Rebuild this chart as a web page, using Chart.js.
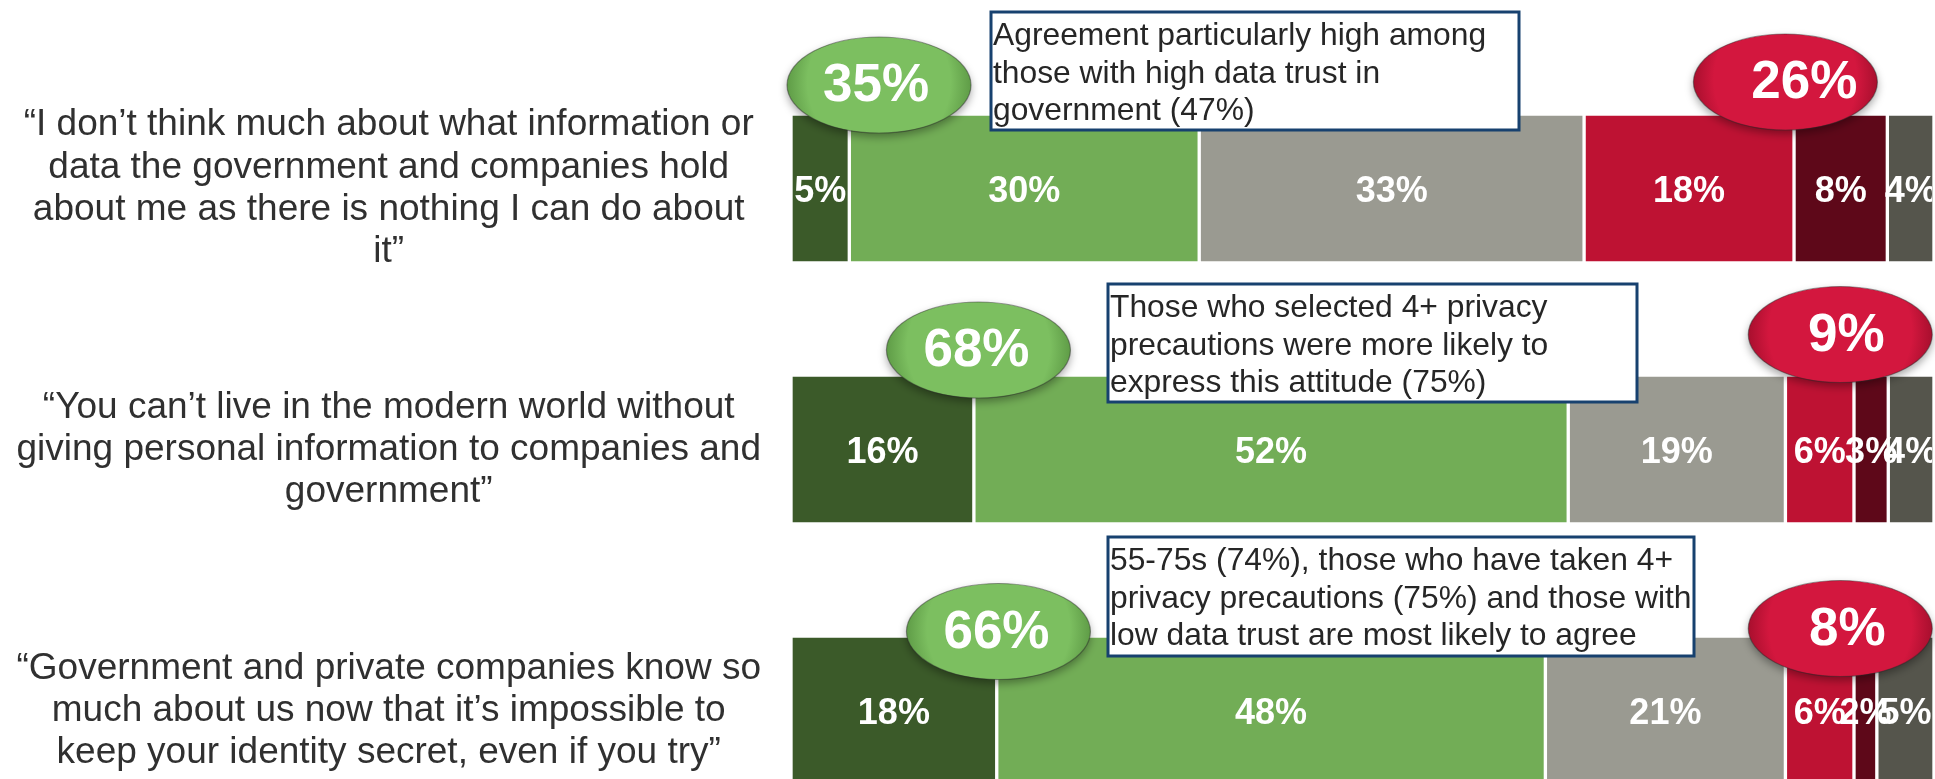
<!DOCTYPE html>
<html>
<head>
<meta charset="utf-8">
<script src="https://cdn.jsdelivr.net/npm/chart.js@4.4.1/dist/chart.umd.min.js"></script>
<style>
  html, body { margin: 0; padding: 0; background: #fff; overflow: hidden; }
  #wrap { width: 1935px; height: 779px; overflow: hidden; position: relative; }
  #wrap canvas { display: block; }
</style>
</head>
<body>
<div id="wrap"><canvas id="attitudeChart" width="1935" height="850"></canvas></div>
<script>
// statements (one line per array entry)
const statements = [
  ['“I don’t think much about what information or', 'data the government and companies hold', 'about me as there is nothing I can do about', 'it”'],
  ['“You can’t live in the modern world without', 'giving personal information to companies and', 'government”'],
  ['“Government and private companies know so', 'much about us now that it’s impossible to', 'keep your identity secret, even if you try”']
];

// answers in %
const strongAgree    = [5, 16, 18];
const agree          = [30, 52, 48];
const neither        = [33, 19, 21];
const disagree       = [18, 6, 6];
const strongDisagree = [8, 3, 2];
const dontKnow       = [4, 4, 5];

// net agree / net disagree bubbles
const netAgree    = [35, 68, 66];
const netDisagree = [26, 9, 8];

// sub-group notes
const notes = [
  ['Agreement particularly high among', 'those with high data trust in', 'government (47%)'],
  ['Those who selected 4+ privacy', 'precautions were more likely to', 'express this attitude (75%)'],
  ['55-75s (74%), those who have taken 4+', 'privacy precautions (75%) and those with', 'low data trust are most likely to agree']
];

const FONT = '"Liberation Sans", Arial, sans-serif';

const series = [
  { values: strongAgree,    color: '#3b5a29' },
  { values: agree,          color: '#72ad56' },
  { values: neither,        color: '#9a9a91' },
  { values: disagree,       color: '#be1233' },
  { values: strongDisagree, color: '#5e0819' },
  { values: dontKnow,       color: '#55554c' }
];

// each row is drawn as 100%
const rowTotals = statements.map((s, i) => series.reduce((t, d) => t + d.values[i], 0));

const datasets = series.map(s => ({
  data: s.values.map((v, i) => v / rowTotals[i] * 100),
  values: s.values,
  backgroundColor: s.color,
  borderColor: '#ffffff',
  borderWidth: 2,
  borderSkipped: false,
  barThickness: 149
}));

// bubble placement: x on the % axis, dy from the row centre
const agreeBubbles    = [{ x: 7.7,  dy: -103.5, tx: -3 }, { x: 16.4, dy: -99.5,  tx: -2 }, { x: 18.15, dy: -79, tx: -2 }];
const disagreeBubbles = [{ x: 87.0, dy: -106.5, tx: 19 }, { x: 91.8, dy: -115,   tx: 6 },  { x: 91.8,  dy: -82, tx: 7 }];
const noteBoxes = [
  { left: 991,  top: 12,  w: 528, h: 118 },
  { left: 1108, top: 284, w: 529, h: 118 },
  { left: 1108, top: 537, w: 586, h: 119 }
];

function drawBubble(ctx, cx, cy, text, inner, outer, tx) {
  const rx = 92, ry = 48;
  ctx.save();
  ctx.shadowColor = 'rgba(0,0,0,0.35)';
  ctx.shadowBlur = 8;
  ctx.shadowOffsetY = 4;
  const g = ctx.createRadialGradient(cx, cy - 10, 10, cx, cy, rx);
  g.addColorStop(0, inner);
  g.addColorStop(0.75, inner);
  g.addColorStop(1, outer);
  ctx.beginPath();
  ctx.ellipse(cx, cy, rx, ry, 0, 0, Math.PI * 2);
  ctx.fillStyle = g;
  ctx.fill();
  ctx.restore();

  ctx.save();
  ctx.beginPath();
  ctx.ellipse(cx, cy, rx, ry, 0, 0, Math.PI * 2);
  ctx.strokeStyle = 'rgba(40,40,40,0.45)';
  ctx.lineWidth = 1.2;
  ctx.stroke();
  ctx.fillStyle = '#ffffff';
  ctx.font = 'bold 53px ' + FONT;
  ctx.textAlign = 'center';
  ctx.textBaseline = 'alphabetic';
  ctx.fillText(text, cx + tx, cy + 16);
  ctx.restore();
}

const overlayPlugin = {
  id: 'overlay',
  afterDatasetsDraw(chart) {
    const ctx = chart.ctx;
    const area = chart.chartArea;
    const xs = chart.scales.x;
    const ys = chart.scales.y;

    // value labels inside the segments
    ctx.save();
    ctx.beginPath();
    ctx.rect(area.left, 0, area.right - area.left - 2, chart.height);
    ctx.clip();
    ctx.fillStyle = '#ffffff';
    ctx.font = 'bold 36px ' + FONT;
    ctx.textAlign = 'center';
    ctx.textBaseline = 'middle';
    chart.data.datasets.forEach((ds, di) => {
      chart.getDatasetMeta(di).data.forEach((bar, i) => {
        const cx = (bar.x + bar.base) / 2;
        ctx.fillText(ds.values[i] + '%', cx, bar.y + 4);
      });
    });
    ctx.restore();

    // net agree / disagree bubbles
    statements.forEach((s, i) => {
      const rowY = ys.getPixelForValue(i);
      const a = agreeBubbles[i];
      drawBubble(ctx, xs.getPixelForValue(a.x), rowY + a.dy, netAgree[i] + '%', '#7cbf60', '#5f9c47', a.tx);
      const d = disagreeBubbles[i];
      drawBubble(ctx, xs.getPixelForValue(d.x), rowY + d.dy, netDisagree[i] + '%', '#d3173e', '#a80f2e', d.tx);
    });

    // note boxes
    noteBoxes.forEach((b, i) => {
      ctx.save();
      ctx.fillStyle = '#ffffff';
      ctx.fillRect(b.left, b.top, b.w, b.h);
      ctx.strokeStyle = '#17416f';
      ctx.lineWidth = 3;
      ctx.strokeRect(b.left, b.top, b.w, b.h);
      ctx.fillStyle = '#262626';
      ctx.font = '31.8px ' + FONT;
      ctx.textAlign = 'left';
      ctx.textBaseline = 'alphabetic';
      notes[i].forEach((line, li) => {
        ctx.fillText(line, b.left + 2, b.top + 33 + li * 37.5);
      });
      ctx.restore();
    });
  }
};

const ctx = document.getElementById('attitudeChart').getContext('2d');
const attitudeChart = new Chart(ctx, {
  type: 'bar',
  data: {
    labels: statements,
    datasets: datasets
  },
  options: {
    indexAxis: 'y',
    responsive: false,
    animation: false,
    layout: { padding: { top: 58, bottom: 9, left: 0, right: 1 } },
    plugins: {
      legend: { display: false },
      tooltip: { enabled: false }
    },
    scales: {
      x: {
        type: 'linear',
        stacked: true,
        min: 0,
        max: 100,
        display: false
      },
      y: {
        stacked: true,
        grid: { display: false, drawTicks: false },
        border: { display: false },
        ticks: {
          autoSkip: false,
          crossAlign: 'center',
          padding: 30,
          color: '#303030',
          font: { family: FONT, size: 37, lineHeight: 1.14 }
        },
        afterFit(scale) {
          // fixed label column; the multi-line labels may run past the plot edges
          scale.width = 791;
          scale.paddingTop = 0;
          scale.paddingBottom = 0;
        }
      }
    }
  },
  plugins: [overlayPlugin]
});
</script>
</body>
</html>
